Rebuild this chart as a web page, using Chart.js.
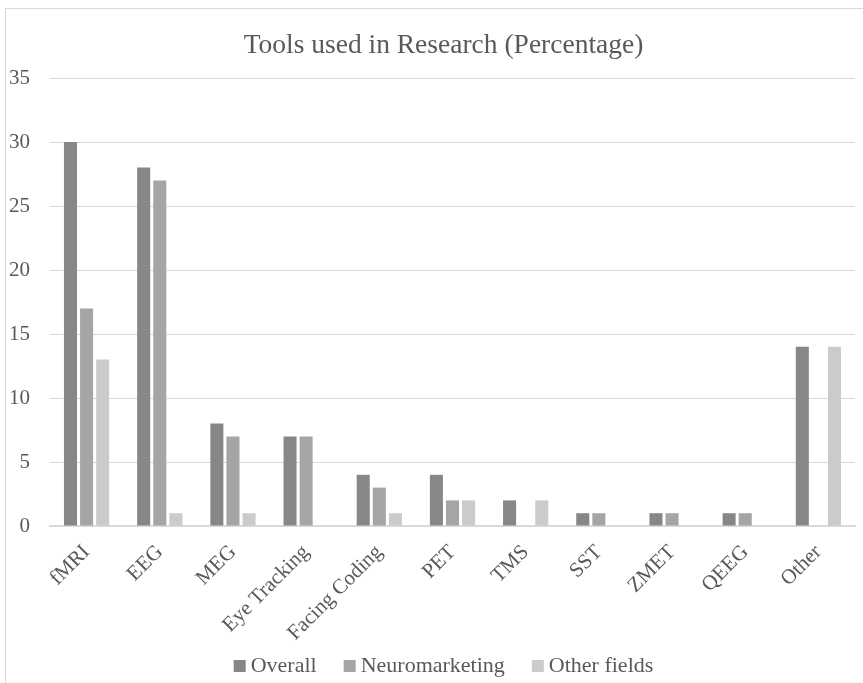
<!DOCTYPE html>
<html>
<head>
<meta charset="utf-8">
<script src="https://cdn.jsdelivr.net/npm/chart.js@4/dist/chart.umd.min.js"></script>
<style>
  html, body { margin: 0; padding: 0; background: #fff; overflow: hidden; }
  #wrap { position: relative; width: 863px; height: 683px; overflow: hidden; }
  #frame { position: absolute; left: 5px; top: 8px; width: 900px; height: 720px; border: 1px solid #d9d9d9; box-sizing: border-box; pointer-events: none; }
  canvas { position: absolute; left: 0; top: 0; }
</style>
</head>
<body>
<div id="wrap">
  <div id="frame"></div>
  <canvas id="c" width="863" height="683"></canvas>
</div>
<script>
// Research tools, share of studies (%)
const chartTitle = "Tools used in Research (Percentage)";
const categories = ["fMRI", "EEG", "MEG", "Eye Tracking", "Facing Coding", "PET", "TMS", "SST", "ZMET", "QEEG", "Other"];
const overall        = [30, 28, 8, 7, 4, 4, 2, 1, 1, 1, 14];
const neuromarketing = [17, 27, 7, 7, 3, 2, 0, 1, 1, 1, 0];
const otherFields    = [13, 1, 1, 0, 1, 2, 2, 0, 0, 0, 14];
const seriesNames = ["Overall", "Neuromarketing", "Other fields"];
const yTicks = [0, 5, 10, 15, 20, 25, 30, 35];

const FONT = "'Liberation Serif', 'Times New Roman', serif";
const TEXT = "#595959";
Chart.defaults.font.family = FONT;
Chart.defaults.color = TEXT;

// Title and compact legend row, both centred on the outer frame
const frameText = {
  id: "frameText",
  afterDraw(chart, args, opts) {
    const ctx = chart.ctx;
    ctx.save();
    ctx.textBaseline = "alphabetic";

    // title
    ctx.font = opts.titleSize + "px " + FONT;
    ctx.textAlign = "center";
    ctx.fillStyle = TEXT;
    ctx.fillText(opts.title, opts.centerX, opts.titleBaseline);

    // legend: small square, tight gap, wide spacing between entries
    const sets = chart.data.datasets;
    ctx.font = opts.legendSize + "px " + FONT;
    ctx.textAlign = "left";
    const widths = sets.map(d => ctx.measureText(d.label).width);
    const total = widths.reduce((a, w) => a + opts.box + opts.gap + w, 0) + opts.spacing * (sets.length - 1);
    let x = opts.centerX - total / 2;
    sets.forEach((d, i) => {
      ctx.fillStyle = d.backgroundColor;
      ctx.fillRect(x, opts.legendBaseline - opts.box, opts.box, opts.box);
      ctx.fillStyle = TEXT;
      ctx.fillText(d.label, x + opts.box + opts.gap, opts.legendBaseline);
      x += opts.box + opts.gap + widths[i] + opts.spacing;
    });
    ctx.restore();
  }
};

new Chart(document.getElementById("c"), {
  type: "bar",
  data: {
    labels: categories,
    datasets: [
      { label: seriesNames[0], data: overall,        backgroundColor: "#878787" },
      { label: seriesNames[1], data: neuromarketing, backgroundColor: "#a5a5a5" },
      { label: seriesNames[2], data: otherFields,    backgroundColor: "#cbcbcb" }
    ]
  },
  plugins: [frameText],
  options: {
    responsive: false,
    animation: false,
    devicePixelRatio: 1,
    layout: { padding: { left: 0, right: 8, top: 78, bottom: 35 } },
    datasets: { bar: { categoryPercentage: 0.66, barPercentage: 0.81 } },
    plugins: {
      title: { display: false },
      legend: { display: false },
      frameText: {
        title: chartTitle, titleSize: 27.5, titleBaseline: 53,
        legendSize: 22, box: 12, gap: 5, spacing: 27,
        centerX: 443.5, legendBaseline: 672
      },
      tooltip: { enabled: false }
    },
    scales: {
      x: {
        grid: { display: false },
        border: { display: true, color: "#d9d9d9", width: 2 },
        ticks: {
          color: TEXT,
          font: { family: FONT, size: 21 },
          minRotation: 45,
          maxRotation: 45,
          autoSkip: false,
          padding: 6
        },
        afterFit: (s) => { s.height = 122; }
      },
      y: {
        min: 0,
        max: 35,
        afterBuildTicks: (s) => { s.ticks = yTicks.map(v => ({ value: v })); },
        grid: { color: "#d9d9d9", drawTicks: false },
        border: { display: false },
        ticks: {
          color: TEXT,
          font: { family: FONT, size: 21 },
          padding: 20
        },
        afterFit: (s) => { s.width = 50; }
      }
    }
  }
});
</script>
</body>
</html>
